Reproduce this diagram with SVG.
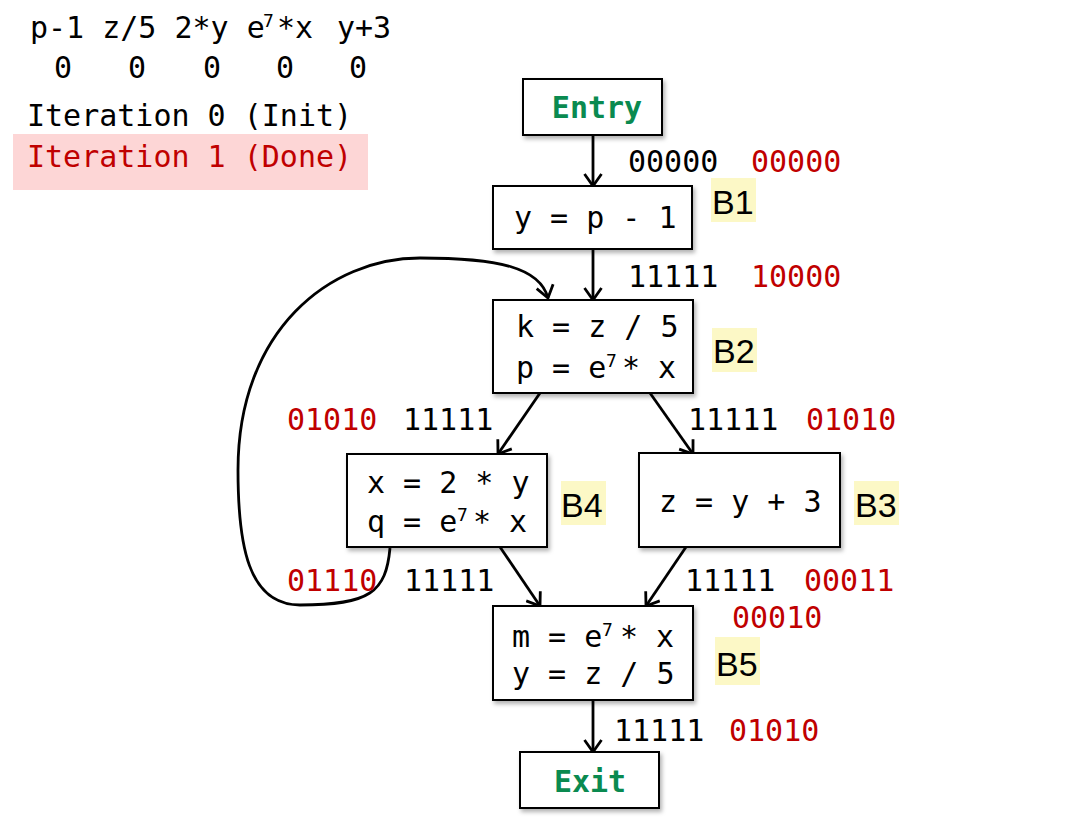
<svg xmlns="http://www.w3.org/2000/svg" width="1068" height="838" viewBox="0 0 1068 838">
<style>
.m{font-family:"DejaVu Sans Mono","Liberation Mono",monospace;font-size:30px;fill:#000}
.r{fill:#c00000}
.g{fill:#0a8a50;font-weight:bold}
.sup{font-size:18px}
.box{fill:#fff;stroke:#000;stroke-width:2;filter:url(#sh)}
.bl{font-family:"Liberation Sans","Open Sans",sans-serif;font-size:34px;fill:#000}
.hl{fill:#fcf8c6}
.c{fill:none;stroke:#000;stroke-width:2.8;marker-end:url(#ah)}
</style>
<defs>
<filter id="sh" x="-10%" y="-10%" width="130%" height="140%"><feDropShadow dx="2" dy="3" stdDeviation="2" flood-color="#000" flood-opacity="0.3"/></filter>
<marker id="ah" viewBox="0 0 16 20" refX="14" refY="10" markerWidth="16" markerHeight="20" markerUnits="userSpaceOnUse" orient="auto"><path d="M2,1.5 L14,10 L2,18.5" fill="none" stroke="#000" stroke-width="2.8"/></marker>
</defs>
<rect width="1068" height="838" fill="#fff"/>
<g id="legend">
<text class="m" x="30" y="38">p-1 z/5 2*y e<tspan class="sup" x="263" dy="-11">7</tspan><tspan x="277" dy="11">*x</tspan><tspan x="337">y+3</tspan></text>
<text class="m" x="54 128 203 276 349" y="78">00000</text>
<text class="m" x="27" y="126">Iteration 0 (Init)</text>
<rect x="13" y="134" width="355" height="56" fill="#fdd6d6"/>
<text class="m r" x="27" y="167">Iteration 1 (Done)</text>
</g>
<g id="connectors">
<path class="c" d="M593,135 L593,186"/>
<path class="c" d="M593,249 L593,300"/>
<path class="c" d="M390,548 C386,592 370,605 300,605 C248,605 238,545 238,470 C238,330 330,258 420,258 C500,258 540,268 548,298"/>
<path class="c" d="M540,393 L498,454"/>
<path class="c" d="M650,393 L693,454"/>
<path class="c" d="M500,547 L540,606"/>
<path class="c" d="M686,547 L646,606"/>
<path class="c" d="M593,700 L593,752"/>
</g>
<g id="entry">
<rect class="box" x="523" y="79" width="139" height="56"/>
<text class="m g" x="597" y="118" text-anchor="middle">Entry</text>
</g>
<g id="b1">
<rect class="box" x="493" y="186" width="199" height="63"/>
<text class="m" x="514" y="228">y = p - 1</text>
<rect class="hl" x="711" y="178" width="45" height="44"/>
<text class="bl" x="712" y="214">B1</text>
</g>
<g id="b2">
<rect class="box" x="493" y="300" width="200" height="93"/>
<text class="m" x="516" y="337">k = z / 5</text>
<text class="m" x="516" y="378">p = e<tspan class="sup" x="606" dy="-11">7</tspan><tspan x="622" dy="11">* x</tspan></text>
<rect class="hl" x="712" y="328" width="45" height="44"/>
<text class="bl" x="713" y="363">B2</text>
</g>
<g id="b4">
<rect class="box" x="347" y="454" width="200" height="93"/>
<text class="m" x="367" y="493">x = 2 * y</text>
<text class="m" x="367" y="532">q = e<tspan class="sup" x="457" dy="-11">7</tspan><tspan x="473" dy="11">* x</tspan></text>
<rect class="hl" x="561" y="481" width="45" height="44"/>
<text class="bl" x="561" y="517">B4</text>
</g>
<g id="b3">
<rect class="box" x="639" y="453" width="201" height="94"/>
<text class="m" x="659" y="512">z = y + 3</text>
<rect class="hl" x="854" y="481" width="45" height="44"/>
<text class="bl" x="855" y="517">B3</text>
</g>
<g id="b5">
<rect class="box" x="493" y="606" width="200" height="94"/>
<text class="m" x="512" y="647">m = e<tspan class="sup" x="602" dy="-11">7</tspan><tspan x="620" dy="11">* x</tspan></text>
<text class="m" x="512" y="684">y = z / 5</text>
<rect class="hl" x="715" y="637" width="45" height="48"/>
<text class="bl" x="716" y="676">B5</text>
</g>
<g id="exit">
<rect class="box" x="520" y="752" width="139" height="56"/>
<text class="m g" x="590" y="792" text-anchor="middle">Exit</text>
</g>
<g id="labels">
<text class="m" x="628" y="172">00000</text>
<text class="m r" x="751" y="172">00000</text>
<text class="m" x="628" y="287">11111</text>
<text class="m r" x="751" y="287">10000</text>
<text class="m r" x="287" y="430">01010</text>
<text class="m" x="403" y="430">11111</text>
<text class="m" x="688" y="430">11111</text>
<text class="m r" x="806" y="430">01010</text>
<text class="m r" x="287" y="591">01110</text>
<text class="m" x="404" y="591">11111</text>
<text class="m" x="685" y="591">11111</text>
<text class="m r" x="804" y="591">00011</text>
<text class="m r" x="732" y="628">00010</text>
<text class="m" x="614" y="741">11111</text>
<text class="m r" x="729" y="741">01010</text>
</g>
</svg>
